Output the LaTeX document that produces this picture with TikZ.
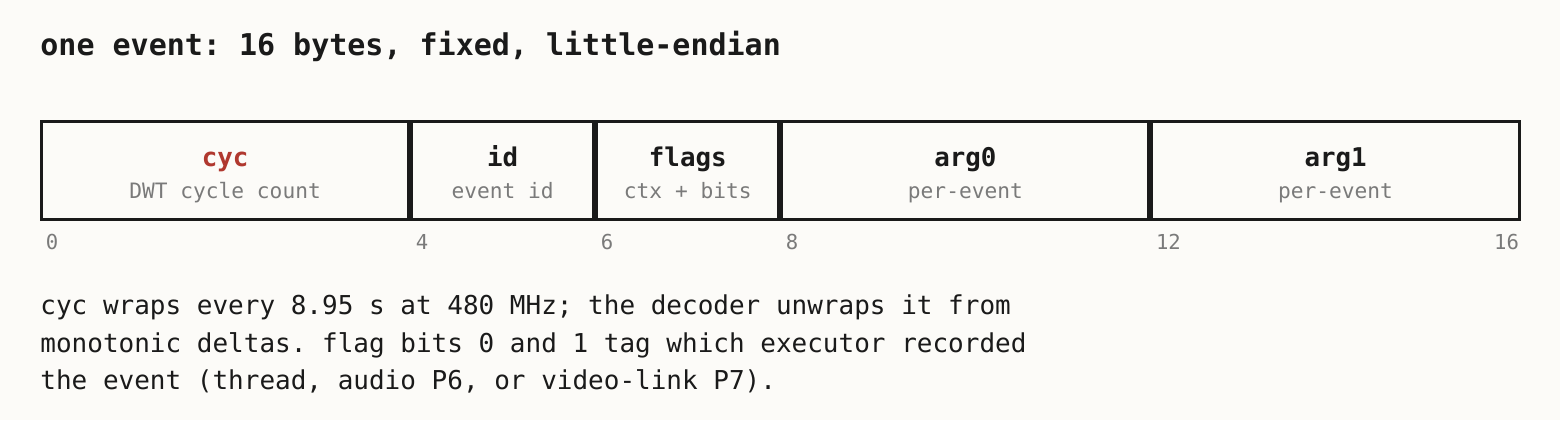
\documentclass[tikz,border=0pt]{standalone}
\usepackage{fontspec}
\setmainfont{DejaVu Sans Mono}
\usepackage{tikz}
\usetikzlibrary{positioning}
\frenchspacing

\definecolor{paper}{HTML}{FCFBF8}
\definecolor{ink}{HTML}{1A1A1A}
\definecolor{muted}{HTML}{7A7A7A}
\definecolor{accent}{HTML}{B0382F}

\begin{document}
\begin{tikzpicture}[x=0.5pt, y=-0.5pt,
    fieldbox/.style={rectangle, draw=ink, line width=1.5pt, fill=paper, inner sep=0pt,
        minimum height=48.85pt, minimum width=#1*46.27pt-1.5pt},
    fieldname/.style={anchor=base, inner sep=0pt, text=ink, font=\fontsize{12.9}{15}\selectfont\bfseries},
    fieldsub/.style={anchor=base, inner sep=0pt, text=muted, font=\fontsize{10.6}{13}\selectfont},
    offset/.style={anchor=base west, inner sep=0pt, text=muted, font=\fontsize{10.3}{12}\selectfont},
    notetext/.style={anchor=base west, inner sep=0pt, text=ink, font=\fontsize{13}{18}\selectfont}]

        \fill[paper] (0,0) rectangle (1560,420);
        \useasboundingbox (0,0) rectangle (1560,420);

        \node[anchor=base west, inner sep=0pt, text=ink, font=\fontsize{15}{18}\selectfont\bfseries] (title) at (40,55.5) {one event: 16 bytes, fixed, little-endian};

        % the five fields, 4+2+2+4+4 bytes
        \node[fieldbox=4, anchor=west] (cyc) at (40,170.35) {};
        \node[fieldbox=2] (id) [right=0pt of cyc] {};
        \node[fieldbox=2] (flags) [right=0pt of id] {};
        \node[fieldbox=4] (arg0) [right=0pt of flags] {};
        \node[fieldbox=4] (arg1) [right=0pt of arg0] {};

        \node[fieldname, text=accent] (cycname) at ([yshift=1.7pt]cyc.center) {cyc};
        \node[fieldsub] (cycsub) at ([yshift=-14pt]cyc.center) {DWT cycle count};
        \node[fieldname] (idname) at ([yshift=1.7pt]id.center) {id};
        \node[fieldsub] (idsub) at ([yshift=-14pt]id.center) {event id};
        \node[fieldname] (flagsname) at ([yshift=1.7pt]flags.center) {flags};
        \node[fieldsub] (flagssub) at ([yshift=-14pt]flags.center) {ctx + bits};
        \node[fieldname] (arg0name) at ([yshift=1.7pt]arg0.center) {arg0};
        \node[fieldsub] (arg0sub) at ([yshift=-14pt]arg0.center) {per-event};
        \node[fieldname] (arg1name) at ([yshift=1.7pt]arg1.center) {arg1};
        \node[fieldsub] (arg1sub) at ([yshift=-14pt]arg1.center) {per-event};

        % byte offsets
        \node[offset] (off0) at ([xshift=2.7pt, yshift=-14.5pt]cyc.south west) {0};
        \node[offset] (off4) at ([xshift=2.6pt, yshift=-14.5pt]id.south west) {4};
        \node[offset] (off6) at ([xshift=2.6pt, yshift=-14.5pt]flags.south west) {6};
        \node[offset] (off8) at ([xshift=2.6pt, yshift=-14.5pt]arg0.south west) {8};
        \node[offset] (off12) at ([xshift=2.6pt, yshift=-14.5pt]arg1.south west) {12};
        \node[offset, anchor=base east] (off16) at ([xshift=-0.6pt, yshift=-14.5pt]arg1.south east) {16};

        \node[notetext] (note1) at (40,314.7) {cyc wraps every 8.95 s at 480 MHz; the decoder unwraps it from};
        \node[notetext] (note2) at (40,352.2) {monotonic deltas. flag bits 0 and 1 tag which executor recorded};
        \node[notetext] (note3) at (40,389.7) {the event (thread, audio P6, or video-link P7).};

        \end{tikzpicture}
\end{document}
